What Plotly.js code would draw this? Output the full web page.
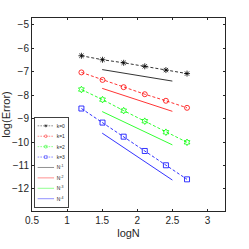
<!DOCTYPE html>
<html><head><meta charset="utf-8">
<script src="https://cdn.plot.ly/plotly-3.0.1.min.js"></script>
<style>html,body{margin:0;padding:0;background:#fff}#c{width:249px;height:249px}</style>
</head><body><div id="c"></div>
<script>
const logN = [1.204, 1.505, 1.806, 2.107, 2.408, 2.709];
const errK0 = [-6.32, -6.49, -6.62, -6.77, -6.93, -7.08];
const errK1 = [-7.03, -7.35, -7.66, -7.96, -8.24, -8.54];
const errK2 = [-7.76, -8.19, -8.66, -9.11, -9.58, -10.01];
const errK3 = [-8.57, -9.17, -9.77, -10.38, -10.99, -11.59];
const refX = [1.5, 2.5];
const refN1 = [-6.91, -7.40];
const refN2 = [-7.71, -8.69];
const refN3 = [-8.70, -10.12];
const refN4 = [-9.62, -11.62];
const seriesNames = ['k=0','k=1','k=2','k=3'];
const refNames = ['N<sup>-1</sup>','N<sup>-2</sup>','N<sup>-3</sup>','N<sup>-4</sup>'];
const colors = ['#000000','#ff0000','#00ff00','#0000ff'];
const symbols = ['asterisk-open','circle-open','hexagram-open','square-open'];
const errs = [errK0, errK1, errK2, errK3];
const refs = [refN1, refN2, refN3, refN4];
const traces = [];
errs.forEach((e,i)=>traces.push({x:logN,y:e,name:seriesNames[i],mode:'lines+markers',
  line:{color:colors[i],width:0.8,dash:'3px,2px'},marker:{symbol:symbols[i],size:5,color:colors[i],line:{color:colors[i],width:0.8}}}));
refs.forEach((r,i)=>traces.push({x:refX,y:r,name:refNames[i],mode:'lines',line:{color:colors[i],width:0.8}}));
const ax = {showline:true,mirror:'ticks',linecolor:'#262626',linewidth:1,ticks:'inside',ticklen:2,tickcolor:'#262626',
  zeroline:false,showgrid:false,tickfont:{family:'Liberation Sans, Arial',size:10,color:'#262626'}};
const layout = {width:249,height:249,margin:{l:32,r:24,t:18,b:38},paper_bgcolor:'#fff',plot_bgcolor:'#fff',
  xaxis:Object.assign({},ax,{range:[0.5,3.25],tickvals:[0.5,1,1.5,2,2.5,3],ticktext:['0.5','1','1.5','2','2.5','3'],
    title:{text:'logN',font:{family:'Liberation Sans, Arial',size:11,color:'#262626'},standoff:4}}),
  yaxis:Object.assign({},ax,{range:[-12.94,-4.71],tickvals:[-12,-11,-10,-9,-8,-7,-6,-5],
    title:{text:'log(Error)',font:{family:'Liberation Sans, Arial',size:11,color:'#262626'},standoff:2}}),
  showlegend:true,
  legend:{x:0.01,y:1,xanchor:'left',yanchor:'top',bgcolor:'#fff',bordercolor:'#262626',borderwidth:1.6,maxheight:2000,
    font:{family:'Liberation Sans, Arial',size:9,color:'#262626'},tracegroupgap:0,itemwidth:30}
};
Plotly.newPlot('c',traces,layout,{displayModeBar:false,staticPlot:true}).then(gd=>{
  const lg = gd.querySelector('.legend');
  if(lg){
    const L = gd._fullLayout.legend;
    const h = (L && L._height) || lg.getBBox().height;
    const s = 91 / Math.max(h,1);
    lg.setAttribute('transform', 'translate(34,117) scale(' + s.toFixed(3) + ')');
  }
});
</script></body></html>
